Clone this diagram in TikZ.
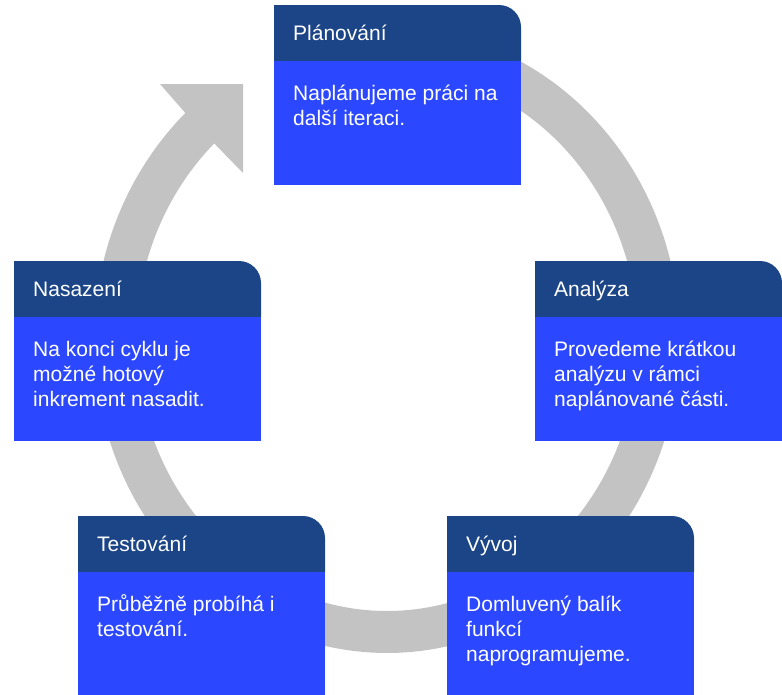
\documentclass[tikz,border=0pt]{standalone}
\usepackage{fontspec}
\setmainfont{Liberation Sans}
\definecolor{ringgray}{HTML}{C3C3C3}
\definecolor{hdrblue}{HTML}{1C4587}
\definecolor{bdyblue}{HTML}{2B47FF}
\tikzset{
  ringfill/.style={fill=ringgray},
  hdrfill/.style={fill=hdrblue},
  bdyfill/.style={fill=bdyblue},
  txt/.style={text=white, inner sep=0pt, anchor=base west, font=\fontsize{21}{25}\selectfont},
}
\newcommand\phasebox[5]{%
  \fill[hdrfill] (#2,{#3+56}) -- (#2,#3) -- ({#2+225},#3) .. controls ({#2+237.15},#3) and ({#2+247},{#3+9.85}) .. ({#2+247},{#3+22}) -- ({#2+247},{#3+56}) -- cycle;
  \fill[bdyfill] (#2,{#3+56}) rectangle ({#2+247},{#3+180});
  \node[txt] (#1-title) at ({#2+19},{#3+35}) {#4};
  \foreach \l [count=\i] in {#5} {
    \node[txt] (#1-line\i) at ({#2+19},{#3+95+25*(\i-1)}) {\l};
  }
}
\begin{document}
\begin{tikzpicture}[x=1pt,y=-1pt]
\useasboundingbox (0,0) rectangle (782,694);
% circular arrow
\fill[ringfill] plot[domain=-105:226.5, samples=240] ({387+293*cos(\x)},{340+313*sin(\x)})
  -- (160,84) -- (243,84) -- (243,173)
  -- plot[domain=226.5:-105, samples=240] ({387+251*cos(\x)},{340+271*sin(\x)}) -- cycle;
\phasebox{plan}{274}{5}{Plánování}{Naplánujeme práci na, další iteraci.}
\phasebox{anal}{535}{261}{Analýza}{Provedeme krátkou, analýzu v rámci, naplánované části.}
\phasebox{nasaz}{14}{261}{Nasazení}{Na konci cyklu je, možné hotový, inkrement nasadit.}
\phasebox{test}{78}{516}{Testování}{Průběžně probíhá i, testování.}
\phasebox{vyvoj}{447}{516}{Vývoj}{Domluvený balík, funkcí, naprogramujeme.}
\end{tikzpicture}
\end{document}
